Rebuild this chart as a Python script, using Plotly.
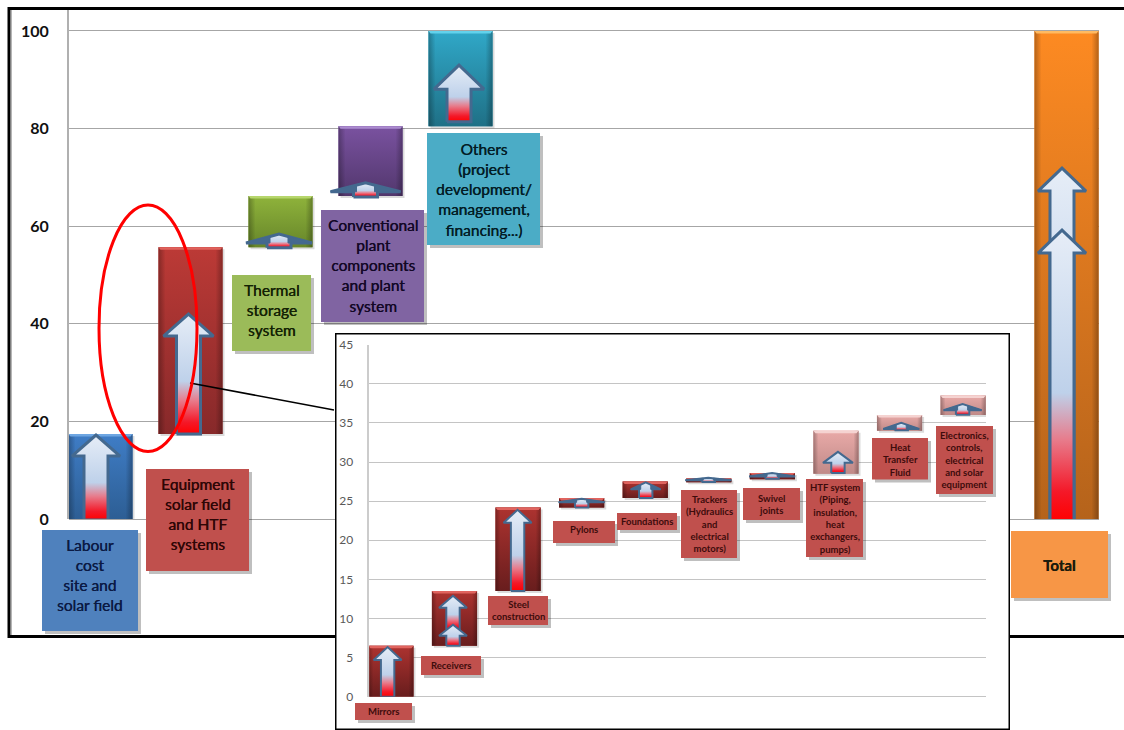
import plotly.graph_objects as go

# ---------- data ----------
main_categories = ["Labour cost site and solar field", "Equipment solar field and HTF systems",
                   "Thermal storage system", "Conventional plant components and plant system",
                   "Others (project development/ management, financing...)", "Total"]
main_base = [0, 17.4, 55.7, 66.2, 80.5, 0]
main_value = [17.4, 38.3, 10.5, 14.3, 19.5, 100]
main_arrow_cat = [0, 1, 2, 3, 4, 5, 5]
main_arrow_base = [-0.2, 17.4, 55.6, 66.0, 81.4, 0, -0.4]
main_arrow_tip = [17.2, 42, 58.4, 68.9, 93, 71.9, 59.2]
main_ticks = [0, 20, 40, 60, 80, 100]

inset_categories = ["Mirrors", "Receivers", "Steel construction", "Pylons", "Foundations",
                    "Trackers (Hydraulics and electrical motors)", "Swivel joints",
                    "HTF system (Piping, insulation, heat exchangers, pumps)",
                    "Heat Transfer Fluid", "Electronics, controls, electrical and solar equipment"]
inset_base = [0, 6.5, 13.5, 24.2, 25.4, 27.4, 27.8, 28.5, 34, 36]
inset_value = [6.5, 7.0, 10.7, 1.2, 2.1, 0.5, 0.8, 5.5, 2, 2.5]
inset_arrow_cat = [0, 1, 1, 2, 3, 4, 5, 6, 7, 8, 9]
inset_arrow_base = [0, 8.6, 6.5, 13.5, 24.2, 25.4, 27.45, 27.85, 28.6, 34.05, 36.05]
inset_arrow_tip = [6.35, 12.9, 9.2, 23.9, 25.3, 27.4, 28.0, 28.6, 31.3, 35.0, 37.4]
inset_ticks = [0, 5, 10, 15, 20, 25, 30, 35, 40, 45]

# ---------- styles ----------
W, H = 1124, 730
FONT = "Lato"
def px(v): return v / W
def py(v): return 1 - v / H

MAIN_PITCH, MAIN_UNIT = 90.0, 509 / 104.3
INSET_PITCH, INSET_UNIT = 63.6, 352 / 45
MAIN_SLOTS = [0, 1, 2, 3, 4, 10.733]

main_colors = [("#6ea6e2", "#3f7dc6", "#2d5e94"), ("#e0625c", "#bc3a36", "#87292a"),
               ("#b6d66c", "#8fb33b", "#67862a"), ("#ab8bcf", "#7a52a0", "#52376d"),
               ("#62d2ec", "#30a8c8", "#1f7086"), ("#ffba62", "#fd8a22", "#b5631b")]
inset_dark = ("#e0645f", "#ad3330", "#681d1d")
inset_light = ("#f5d3d1", "#e9aaa8", "#c08a88")
inset_colors = [inset_dark] * 7 + [inset_light] * 3

main_arrow_px = [(-4.5, 24, 21, 12), (-2, 25, 22, 12), (-1.5, 33, 9, 12), (-5, 35, 9, 12),
                 (-1.5, 25, 24, 12), (-4.5, 24, 23, 12), (-4.5, 24, 23, 12)]
inset_arrow_px = [(-3.3, 14, 13, 6.7), (-1.5, 14, 12, 6.7), (-1.5, 14, 11, 6.7), (-0.5, 14, 13, 6.7),
                  (0, 23, 3.5, 6.7), (0.5, 15, 7, 6.7), (-0.5, 23, 2.5, 6.7), (-0.3, 23, 3.5, 6.7),
                  (2, 15, 11, 6.7), (1.7, 18, 6, 6.7), (-0.5, 19, 6, 6.7)]

ARROW_SCALE = [[0, "#ff0000"], [0.10, "#f41828"], [0.28, "#e77c8c"], [0.44, "#bed1ea"], [1, "#e6edf7"]]
ARROW_LINE = "#44698f"

fig = go.Figure()

def add_bars(xs, bases, values, colors, pitch, unit, xa, ya, width):
    fig.add_trace(go.Bar(x=xs, y=values, base=bases, width=width, xaxis=xa, yaxis=ya,
                         marker=dict(color=[c[1] for c in colors], line_width=0),
                         hoverinfo="skip", showlegend=False))
    for x, b, v, c in zip(xs, bases, values, colors):
        t = b + v
        l, r = x - width / 2, x + width / 2
        dx, dy = 2 / pitch, 2 / unit
        fig.add_trace(go.Scatter(x=[l + dx, r + dx, r + dx, l + dx, l + dx],
                                 y=[b - dy, b - dy, t - dy, t - dy, b - dy],
                                 fill="toself", fillcolor="rgba(0,0,0,0.14)", mode="none",
                                 xaxis=xa, yaxis=ya, hoverinfo="skip", showlegend=False, cliponaxis=False))
        fig.add_trace(go.Scatter(x=[l, r, r, l, l], y=[b, b, t, t, b], mode="none", fill="toself",
                                 fillgradient=dict(type="vertical", start=b, stop=t,
                                                   colorscale=[[0, c[2]], [1, c[1]]]),
                                 xaxis=xa, yaxis=ya, hoverinfo="skip", showlegend=False, cliponaxis=False))
        fig.add_trace(go.Scatter(x=[l, r, r, l, l], y=[b, b, t, t, b], mode="none", fill="toself",
                                 fillgradient=dict(type="horizontal", start=l, stop=r,
                                                   colorscale=[[0, "rgba(0,0,0,0.28)"], [0.11, "rgba(0,0,0,0)"],
                                                               [0.89, "rgba(0,0,0,0)"], [1, "rgba(0,0,0,0.28)"]]),
                                 xaxis=xa, yaxis=ya, hoverinfo="skip", showlegend=False, cliponaxis=False))
        s = min(2.5 / unit, v * 0.3)
        fig.add_trace(go.Scatter(x=[l, r, r - 2 / pitch, l + 2 / pitch, l], y=[t, t, t - s, t - s, t],
                                 fill="toself", fillcolor=c[0], mode="none",
                                 xaxis=xa, yaxis=ya, hoverinfo="skip", showlegend=False, cliponaxis=False))

def add_arrows(xs, cats, bases, tips, sizes, pitch, unit, xa, ya, lw):
    for cat, b, t, (off, hw_px, head_px, shaft_px) in zip(cats, bases, tips, sizes):
        cx = xs[cat] + off / pitch
        hw, shaft, head = hw_px / pitch, shaft_px / pitch, head_px / unit
        s = t - head
        fig.add_trace(go.Scatter(
            x=[cx - shaft, cx + shaft, cx + shaft, cx + hw, cx, cx - hw, cx - shaft, cx - shaft],
            y=[b, b, s, s, t, s, s, b],
            mode="lines", line=dict(color=ARROW_LINE, width=lw), fill="toself",
            fillgradient=dict(type="vertical", start=b, stop=t, colorscale=ARROW_SCALE),
            xaxis=xa, yaxis=ya, hoverinfo="skip", showlegend=False, cliponaxis=False))
        # flat heads: the wings read as solid outline colour
        if head_px / hw_px <= 0.5:
            inner = shaft * 0.75
            rise = s + head * (1 - inner / hw)
            for sgn in (-1, 1):
                fig.add_trace(go.Scatter(
                    x=[cx + sgn * hw, cx + sgn * inner, cx + sgn * inner, cx + sgn * hw],
                    y=[s, s, rise, s], mode="lines", fill="toself", fillcolor=ARROW_LINE,
                    line=dict(color=ARROW_LINE, width=1),
                    xaxis=xa, yaxis=ya, hoverinfo="skip", showlegend=False, cliponaxis=False))

add_bars(MAIN_SLOTS, main_base, main_value, main_colors, MAIN_PITCH, MAIN_UNIT, "x", "y", 0.711)
add_arrows(MAIN_SLOTS, main_arrow_cat, main_arrow_base, main_arrow_tip, main_arrow_px,
           MAIN_PITCH, MAIN_UNIT, "x", "y", 3)

fig.add_trace(go.Scatter(x=[0, 1, 1, 0, 0], y=[0, 0, 1, 1, 0], mode="lines", fill="toself",
                         fillcolor="white", line=dict(color="black", width=3),
                         xaxis="x2", yaxis="y2", hoverinfo="skip", showlegend=False, cliponaxis=False))

inset_x = list(range(len(inset_categories)))
add_bars(inset_x, inset_base, inset_value, inset_colors, INSET_PITCH, INSET_UNIT, "x3", "y3", 0.71)
add_arrows(inset_x, inset_arrow_cat, inset_arrow_base, inset_arrow_tip, inset_arrow_px,
           INSET_PITCH, INSET_UNIT, "x3", "y3", 2)

# ---------- text boxes ----------
shapes, annos = [], []
def box(x0, y0, x1, y1, color, text, size, tcolor, bold=False, dy=0):
    shapes.append(dict(type="rect", xref="paper", yref="paper", layer="above", line_width=0,
                       x0=px(x0 + 3), x1=px(x1 + 3), y0=py(y1 + 3), y1=py(y0 + 3), fillcolor="rgba(0,0,0,0.25)"))
    shapes.append(dict(type="rect", xref="paper", yref="paper", layer="above", line_width=0,
                       x0=px(x0), x1=px(x1), y0=py(y1), y1=py(y0), fillcolor=color))
    annos.append(dict(xref="paper", yref="paper", x=px((x0 + x1) / 2), y=py((y0 + y1) / 2 + dy),
                      text=f"<b>{text}</b>" if bold else text, showarrow=False, xanchor="center", yanchor="middle",
                      align="center",
                      font=dict(family=FONT, size=size, color=tcolor,
                                shadow="none" if bold else f"0.35px 0 0 {tcolor}")))

box(42, 530, 138, 631, "#4f81bd", "Labour<br>cost<br>site and<br>solar field", 15.5, "#0b1a44", dy=-6)
box(146, 469, 249, 571, "#c0504d", "Equipment<br>solar field<br>and HTF<br>systems", 15.5, "#2e0606", dy=-6)
box(232, 275, 311, 351, "#9bbb59", "Thermal<br>storage<br>system", 15.5, "#142204", dy=-3)
box(321, 210, 424, 322, "#8064a2", "Conventional<br>plant<br>components<br>and plant<br>system", 15.5, "#130826")
box(427, 133, 540, 245, "#4bacc6", "Others<br>(project<br>development/<br>management,<br>financing...)", 15.5, "#031d26")
box(1011, 531, 1108, 598, "#f79646", "<b>Total</b>", 15, "#1c1c0c")

IT = "#3d0c0c"
box(355, 703, 412, 720, "#c0504d", "Mirrors", 9.5, IT, True)
box(421, 656, 481, 675, "#c0504d", "Receivers", 9.5, IT, True)
box(488, 596, 548, 625, "#c0504d", "Steel<br>construction", 9.5, IT, True)
box(553, 521, 615, 543, "#c0504d", "Pylons", 9.5, IT, True, dy=-3)
box(617, 513, 677, 530, "#c0504d", "Foundations", 9.5, IT, True)
box(681, 490, 737, 558, "#c0504d", "Trackers<br>(Hydraulics<br>and<br>electrical<br>motors)", 9.5, IT, True)
box(743, 488, 800, 520, "#c0504d", "Swivel<br>joints", 9.5, IT, True)
box(806, 479, 863, 557, "#c0504d", "HTF system<br>(Piping,<br>insulation,<br>heat<br>exchangers,<br>pumps)", 9.5, IT, True)
box(872, 438, 928, 479.5, "#c0504d", "Heat<br>Transfer<br>Fluid", 9.5, IT, True, dy=1)
box(936, 426, 993, 494, "#c0504d", "Electronics,<br>controls,<br>electrical<br>and solar<br>equipment", 9.5, IT, True)

shapes.insert(0, dict(type="rect", xref="paper", yref="paper", layer="below", x0=px(9), x1=px(1135),
                      y0=py(636.5), y1=py(8.5), line=dict(color="black", width=3), fillcolor="white"))
shapes.insert(1, dict(type="line", xref="paper", yref="paper", layer="below", x0=px(11.5), x1=px(11.5),
                      y0=py(635), y1=py(10), line=dict(color="#b5b5b5", width=1)))
shapes.append(dict(type="line", xref="paper", yref="paper", layer="above", x0=px(190), x1=px(334),
                   y0=py(383), y1=py(410), line=dict(color="black", width=1.6)))
shapes.append(dict(type="circle", xref="paper", yref="paper", layer="above", x0=px(99), x1=px(197),
                   y0=py(451.5), y1=py(205), line=dict(color="#ff0000", width=3), fillcolor="rgba(0,0,0,0)"))

hidden = dict(showgrid=False, zeroline=False, showticklabels=False, ticks="", showline=False,
              fixedrange=True, automargin=False)

fig.update_layout(
    width=W, height=H, autosize=False, margin=dict(l=0, r=0, t=0, b=0),
    paper_bgcolor="white", plot_bgcolor="rgba(0,0,0,0)", barmode="overlay", showlegend=False,
    shapes=shapes, annotations=annos, font=dict(family=FONT),
    xaxis=dict(hidden, domain=[px(69), px(1099)], range=[-0.35, 11.094], anchor="y"),
    yaxis=dict(domain=[py(519), py(10)], range=[0, 104.3], anchor="x", tickmode="array", automargin=False,
               tickvals=main_ticks, ticktext=[str(t) for t in main_ticks], showgrid=True, gridcolor="#a6a6a6",
               gridwidth=1.4, zeroline=True, zerolinecolor="#a6a6a6", zerolinewidth=1.4, showline=True,
               linecolor="#b0b0b0", linewidth=2, ticklabelstandoff=15, ticks="", fixedrange=True,
               tickfont=dict(family=FONT, size=16, color="#101010", weight="bold")),
    xaxis2=dict(hidden, domain=[px(335), px(1010)], range=[0, 1], anchor="y2"),
    yaxis2=dict(hidden, domain=[py(730), py(333)], range=[0, 1], anchor="x2"),
    xaxis3=dict(hidden, domain=[px(369.3), px(986)], range=[-0.34, 9.36], anchor="y3"),
    yaxis3=dict(domain=[py(696.7), py(344.7)], range=[0, 45], anchor="x3", tickmode="array", automargin=False,
                tickvals=inset_ticks, ticktext=[str(t) for t in inset_ticks], showgrid=True, gridcolor="#c4c4c4",
                gridwidth=1.3, zeroline=True, zerolinecolor="#c4c4c4", zerolinewidth=1.3, showline=True,
                linecolor="#cccccc", linewidth=1.5, ticklabelstandoff=12, ticks="", fixedrange=True,
                tickfont=dict(family=FONT, size=12, color="#595959")),
)

fig.write_html("out.html", config=dict(displayModeBar=False),
               post_script="document.body.style.margin='0';document.body.style.overflow='hidden';")
